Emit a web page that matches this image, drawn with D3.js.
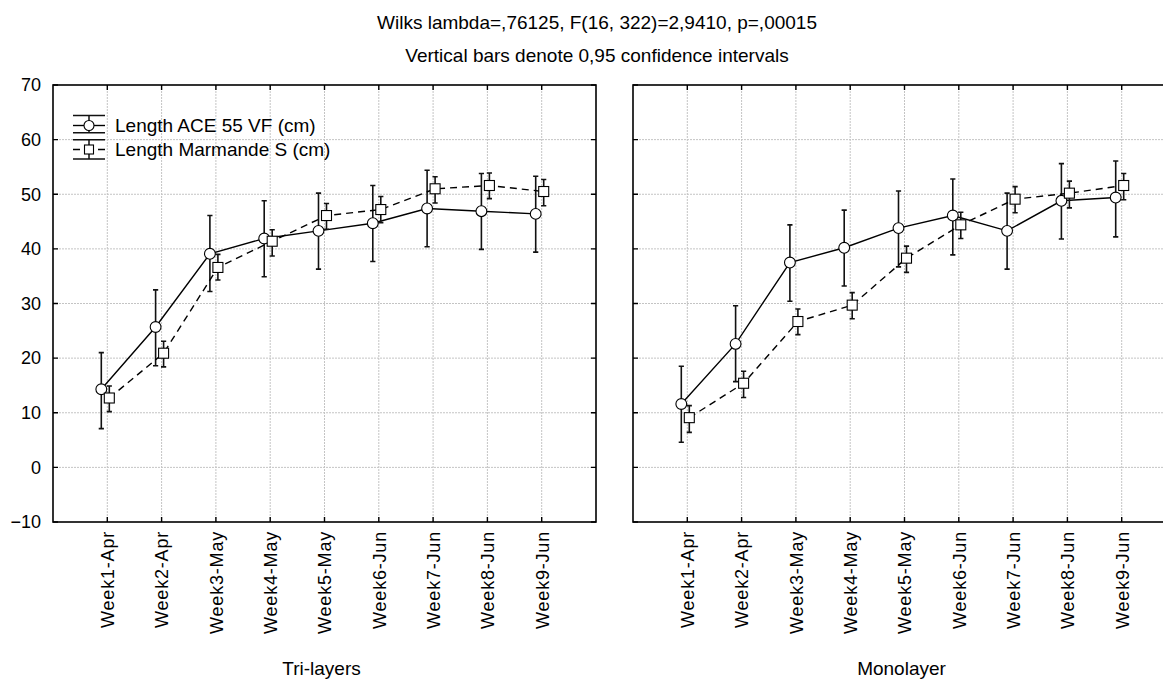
<!DOCTYPE html>
<html>
<head>
<meta charset="utf-8">
<script src="https://cdn.jsdelivr.net/npm/d3@7"></script>
<style>
  body { margin: 0; background: #fff; }
  svg { display: block; }
  text { font-family: Arial, "Liberation Sans", sans-serif; fill: #000; }
</style>
</head>
<body>
<div id="chart"></div>
<script>
// categories
const weeks = ["Week1-Apr", "Week2-Apr", "Week3-May", "Week4-May", "Week5-May",
               "Week6-Jun", "Week7-Jun", "Week8-Jun", "Week9-Jun"];
const yTicks = [-10, 0, 10, 20, 30, 40, 50, 60, 70];

// Tri-layers: means and 0.95 CI bounds
const triAceMean = [14.3, 25.7, 39.1, 41.9, 43.3, 44.7, 47.4, 46.9, 46.4];
const triAceLo   = [7.1, 18.6, 32.2, 34.9, 36.3, 37.7, 40.4, 39.9, 39.4];
const triAceHi   = [21.0, 32.5, 46.1, 48.8, 50.2, 51.6, 54.4, 53.8, 53.3];
const triMarMean = [12.7, 20.9, 36.6, 41.4, 46.1, 47.2, 51.0, 51.6, 50.5];
const triMarLo   = [10.2, 18.4, 34.3, 38.7, 43.6, 44.8, 48.4, 49.2, 47.9];
const triMarHi   = [14.9, 23.1, 39.0, 43.5, 48.3, 49.6, 53.2, 53.9, 52.7];

// Monolayer
const monoAceMean = [11.6, 22.6, 37.5, 40.2, 43.8, 46.1, 43.3, 48.8, 49.4];
const monoAceLo   = [4.6, 15.7, 30.4, 33.2, 36.7, 38.9, 36.3, 41.8, 42.2];
const monoAceHi   = [18.5, 29.6, 44.4, 47.1, 50.6, 52.8, 50.2, 55.6, 56.1];
const monoMarMean = [9.1, 15.4, 26.7, 29.7, 38.3, 44.4, 49.1, 50.2, 51.6];
const monoMarLo   = [6.4, 12.8, 24.3, 27.2, 35.7, 41.9, 46.6, 47.5, 49.0];
const monoMarHi   = [11.3, 17.6, 29.0, 32.0, 40.5, 46.7, 51.4, 52.4, 53.8];

const seriesNames = ["Length ACE 55 VF (cm)", "Length Marmande S (cm)"];
const panelNames = ["Tri-layers", "Monolayer"];
const titleLines = ["Wilks lambda=,76125, F(16, 322)=2,9410, p=,00015",
                    "Vertical bars denote 0,95 confidence intervals"];

const W = 1163, H = 681;
const plotTop = 85, plotBottom = 522, panelW = 543;
const panelLeft = [53, 633];

const svg = d3.select("#chart").append("svg")
    .attr("width", W).attr("height", H);

const y = d3.scaleLinear().domain([-10, 70]).range([plotBottom, plotTop]);

// title
svg.selectAll(".title").data(titleLines).enter().append("text")
    .attr("x", 597).attr("y", (d, i) => 29 + i * 33)
    .attr("text-anchor", "middle")
    .style("font-size", "19px")
    .text(d => d);

function zip(m, lo, hi) {
  return weeks.map((w, i) => ({ week: w, mean: m[i], lo: lo[i], hi: hi[i] }));
}

const panels = [
  { name: panelNames[0], left: panelLeft[0], ace: zip(triAceMean, triAceLo, triAceHi), mar: zip(triMarMean, triMarLo, triMarHi), yLabels: true, legend: true },
  { name: panelNames[1], left: panelLeft[1], ace: zip(monoAceMean, monoAceLo, monoAceHi), mar: zip(monoMarMean, monoMarLo, monoMarHi), yLabels: false, legend: false }
];

panels.forEach(p => drawPanel(p));

function drawPanel(p) {
  const x = d3.scalePoint().domain(weeks).range([p.left, p.left + panelW]).padding(1);
  const g = svg.append("g");

  // grid lines (dotted)
  g.selectAll(".vgrid").data(weeks).enter().append("line")
      .attr("x1", d => x(d)).attr("x2", d => x(d))
      .attr("y1", plotTop).attr("y2", plotBottom)
      .attr("stroke", "#c4c4c4").attr("stroke-width", 1).attr("stroke-dasharray", "2,1");
  g.selectAll(".hgrid").data(yTicks.filter(t => t > -10 && t < 70)).enter().append("line")
      .attr("x1", p.left).attr("x2", p.left + panelW)
      .attr("y1", d => y(d)).attr("y2", d => y(d))
      .attr("stroke", "#c4c4c4").attr("stroke-width", 1).attr("stroke-dasharray", "2,1");

  // frame + inward ticks
  g.append("rect")
      .attr("x", p.left).attr("y", plotTop)
      .attr("width", panelW).attr("height", plotBottom - plotTop)
      .attr("fill", "none").attr("stroke", "#000").attr("stroke-width", 1.6);
  const tk = 5;
  g.selectAll(".ytk").data(yTicks).enter().append("path")
      .attr("d", d => `M${p.left},${y(d)}h${tk}M${p.left + panelW},${y(d)}h${-tk}`)
      .attr("stroke", "#000").attr("stroke-width", 1.4);
  g.selectAll(".xtk").data(weeks).enter().append("path")
      .attr("d", d => `M${x(d)},${plotTop}v${tk}M${x(d)},${plotBottom}v${-tk}`)
      .attr("stroke", "#000").attr("stroke-width", 1.4);

  // y labels
  if (p.yLabels) {
    const ya = g.append("g")
        .attr("transform", `translate(${p.left},0)`)
        .call(d3.axisLeft(y).tickValues(yTicks).tickSize(0).tickPadding(12));
    ya.select(".domain").remove();
    ya.selectAll("text").style("font-size", "18px").style("font-family", "Arial, 'Liberation Sans', sans-serif");
  }

  // x labels, rotated
  const xa = g.append("g")
      .attr("transform", `translate(0,${plotBottom})`)
      .call(d3.axisBottom(x).tickSize(0));
  xa.select(".domain").remove();
  xa.selectAll("text")
      .attr("transform", "rotate(-90)")
      .attr("x", -9).attr("y", 0).attr("dy", "0.35em")
      .style("text-anchor", "end")
      .style("font-size", "18px")
      .style("letter-spacing", "0.8px")
      .style("font-family", "Arial, 'Liberation Sans', sans-serif");

  // panel label
  g.append("text")
      .attr("x", p.left + panelW / 2 - 3).attr("y", 675)
      .attr("text-anchor", "middle")
      .style("font-size", "19px")
      .text(p.name);

  // series 1: circles, solid
  drawSeries(g, x, p.ace, -6, false);
  // series 2: squares, dashed
  drawSeries(g, x, p.mar, 2, true);

  if (p.legend) drawLegend(g);
}

function drawSeries(g, x, data, off, dashed) {
  const cx = d => x(d.week) + off;
  const line = d3.line().x(cx).y(d => y(d.mean));
  g.append("path").datum(data)
      .attr("d", line)
      .attr("fill", "none").attr("stroke", "#000").attr("stroke-width", 1.4)
      .attr("stroke-dasharray", dashed ? "7,5" : null);

  const cap = 2.6;
  g.selectAll(null).data(data).enter().append("path")
      .attr("d", d => `M${cx(d)},${y(d.hi)}V${y(d.lo)}M${cx(d) - cap},${y(d.hi)}h${2 * cap}M${cx(d) - cap},${y(d.lo)}h${2 * cap}`)
      .attr("stroke", "#111").attr("stroke-width", 1.6).attr("fill", "none");

  if (!dashed) {
    g.selectAll(null).data(data).enter().append("circle")
        .attr("cx", cx).attr("cy", d => y(d.mean)).attr("r", 5.4)
        .attr("fill", "#fff").attr("stroke", "#000").attr("stroke-width", 1.1);
  } else {
    g.selectAll(null).data(data).enter().append("rect")
        .attr("x", d => cx(d) - 5).attr("y", d => y(d.mean) - 5)
        .attr("width", 10).attr("height", 10)
        .attr("fill", "#fff").attr("stroke", "#000").attr("stroke-width", 1.1);
  }
}

function drawLegend(g) {
  const x0 = 73, x1 = 105, xc = 89;
  const rows = [{ cy: 125.5, top: 115.5, bot: 132.8 }, { cy: 149.5, top: 139.8, bot: 159 }];
  rows.forEach((r, i) => {
    g.append("path")
        .attr("d", `M${x0},${r.top}H${x1}M${x0},${r.bot}H${x1}M${xc},${r.top}V${r.bot}`)
        .attr("stroke", "#111").attr("stroke-width", 1.5);
    if (i === 0) {
      g.append("path").attr("d", `M${x0},${r.cy}H${x1}`).attr("stroke", "#000").attr("stroke-width", 1.4);
      g.append("circle").attr("cx", xc).attr("cy", r.cy).attr("r", 5)
          .attr("fill", "#fff").attr("stroke", "#000").attr("stroke-width", 1.1);
    } else {
      g.append("path").attr("d", `M${x0},${r.cy}H${x0 + 7}M${x1 - 7},${r.cy}H${x1}`)
          .attr("stroke", "#000").attr("stroke-width", 1.4);
      g.append("rect").attr("x", xc - 4.5).attr("y", r.cy - 4.5).attr("width", 9).attr("height", 9)
          .attr("fill", "#fff").attr("stroke", "#000").attr("stroke-width", 1.1);
    }
    g.append("text")
        .attr("x", 115).attr("y", r.cy).attr("dy", "0.35em")
        .style("font-size", "19px")
        .text(seriesNames[i]);
  });
}
</script>
</body>
</html>
